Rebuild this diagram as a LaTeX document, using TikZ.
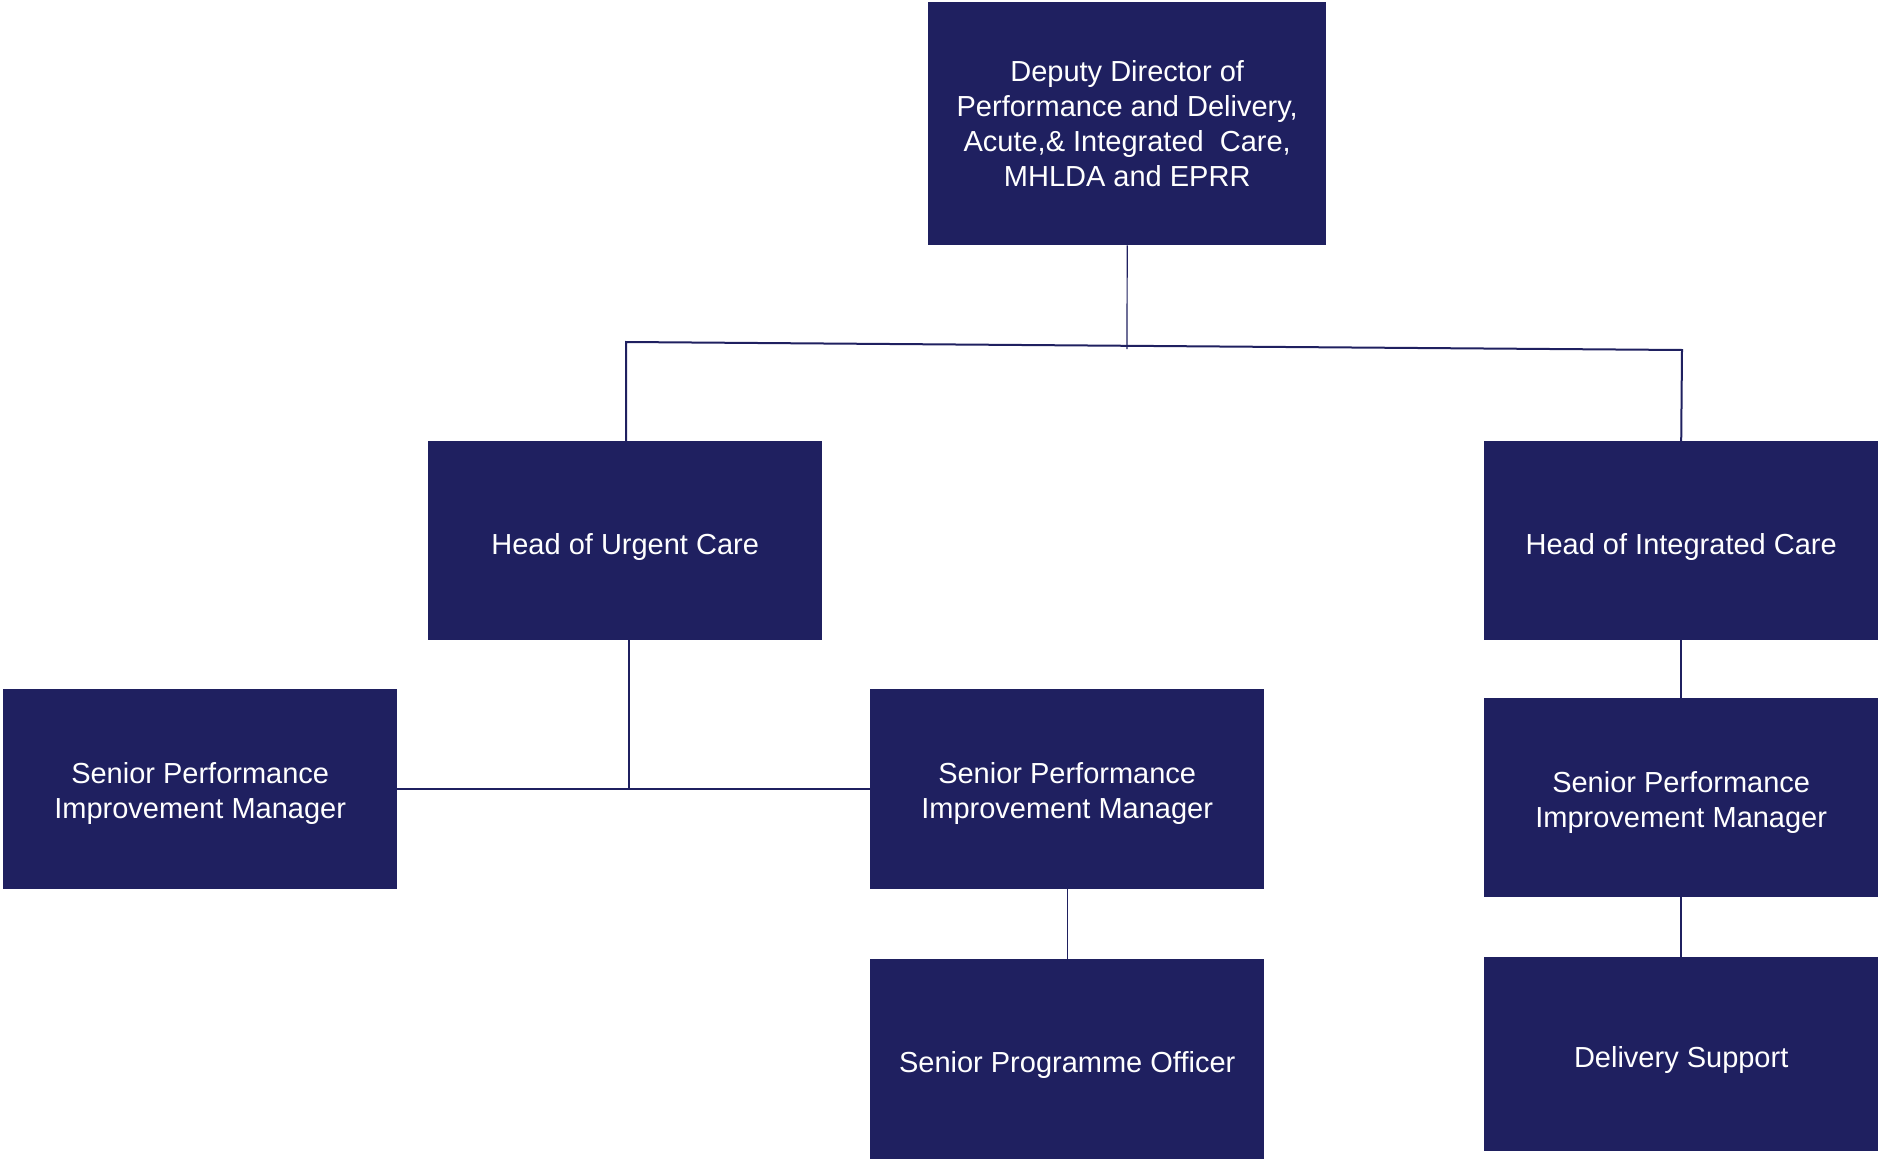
\documentclass[tikz,border=0pt]{standalone}
\usepackage{fontspec}
\setmainfont{Liberation Sans}
\definecolor{navy}{RGB}{31,32,96}
\newcommand{\lowstrut}{\rule{0pt}{33pt}}
\newcommand{\twostrut}{\rule{0pt}{30pt}}
\begin{document}
\begin{tikzpicture}[x=1pt,y=-1pt,
  box/.style={draw=none,fill=navy,text=white,rectangle,anchor=north west,inner sep=0pt,align=center,
    font=\fontsize{29}{35}\selectfont},
  link/.style={draw=navy,line width=2pt},
  thin/.style={draw=navy,line width=1.2pt}]
\useasboundingbox (0,0) rectangle (1880,1159);
\node[box,minimum width=398pt,minimum height=243pt] (dd) at (928,2) {Deputy Director of\\Performance and Delivery,\\Acute,\& Integrated\ \ Care,\\MHLDA and EPRR};
\node[box,minimum width=394pt,minimum height=199pt] (huc) at (428,441) {\lowstrut Head of Urgent Care};
\node[box,minimum width=394pt,minimum height=199pt] (hic) at (1484,441) {\lowstrut Head of Integrated Care};
\node[box,minimum width=394pt,minimum height=200pt] (spl) at (3,689) {\twostrut Senior Performance\\Improvement Manager};
\node[box,minimum width=394pt,minimum height=200pt] (spm) at (870,689) {\twostrut Senior Performance\\Improvement Manager};
\node[box,minimum width=394pt,minimum height=199pt] (spr) at (1484,698) {\twostrut Senior Performance\\Improvement Manager};
\node[box,minimum width=394pt,minimum height=200pt] (spo) at (870,959) {\lowstrut Senior Programme Officer};
\node[box,minimum width=394pt,minimum height=194pt] (ds) at (1484,957) {\lowstrut Delivery Support};
\coordinate (jl) at (626,342);
\coordinate (jr) at (1682,350);
\coordinate (jm) at (1127,349);
\coordinate (ju) at (629,789);
\draw[thin] (dd.south) -- (jm);
\draw[link] (huc.north -| jl) -- (jl) -- (jr) -- (hic.north);
\draw[link] (huc.south -| ju) -- (ju);
\draw[link] (spl.east |- ju) -- (spm.west |- ju);
\draw[thin] (spm.south) -- (spo.north);
\draw[link] (hic.south) -- (spr.north);
\draw[link] (spr.south) -- (ds.north);
\end{tikzpicture}
\end{document}
